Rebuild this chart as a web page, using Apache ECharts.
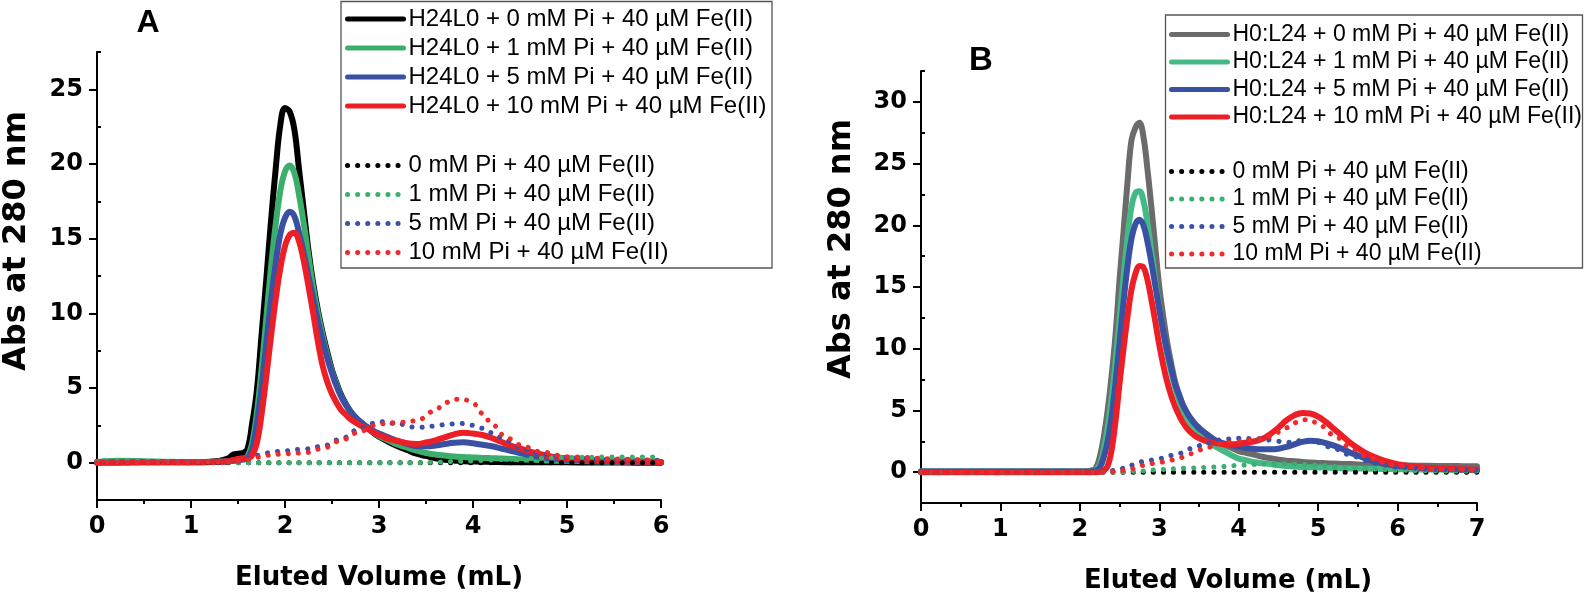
<!DOCTYPE html>
<html><head><meta charset="utf-8">
<script src="https://cdn.jsdelivr.net/npm/echarts@6/dist/echarts.min.js"></script>
<style>html,body{margin:0;padding:0;background:#fff}#c{width:1585px;height:596px}</style>
</head><body><div id="c"></div>
<script>
// ---------- Panel A data ----------
const yTicksA = [0, 5, 10, 15, 20, 25];
const yMinorA = [2.5, 7.5, 12.5, 17.5, 22.5, 27.5];
const xA = [0, 0.25, 0.5, 0.75, 1.0, 1.1, 1.2, 1.3,
  1.4, 1.45, 1.5, 1.55, 1.6, 1.65, 1.7, 1.75, 1.8, 1.85, 1.9, 1.95, 2.0, 2.05, 2.1, 2.15, 2.2, 2.25, 2.3, 2.35, 2.4, 2.45, 2.5, 2.55, 2.6, 2.65, 2.7, 2.75, 2.8, 2.85, 2.9, 2.95, 3.0,
  3.1, 3.2, 3.3, 3.4, 3.5, 3.6, 3.7, 3.8, 3.9, 4.0, 4.1, 4.2, 4.3, 4.4, 4.5, 4.6, 4.7, 4.8, 4.9, 5.0,
  5.25, 5.5, 5.75, 6.0];
const a0 = [0.05, 0.05, 0.05, 0.05, 0.05, 0.05, 0.07, 0.12,
  0.3, 0.55, 0.6, 0.65, 0.9, 2.6, 4.8, 8.5, 12.2, 16.1, 19.6, 22.6, 23.75, 23.5, 22.3, 19.6, 16.9, 14.2, 12.0, 10.2, 8.7, 7.4, 6.2, 5.3, 4.5, 3.9, 3.4, 3.0, 2.7, 2.45, 2.2, 1.95, 1.75,
  1.4, 1.1, 0.85, 0.6, 0.45, 0.3, 0.2, 0.15, 0.1, 0.08, 0.06, 0.05, 0.04, 0.03, 0.03, 0.02, 0.02, 0.02, 0.02, 0.02,
  0.01, 0.01, 0.0, 0.0];
const a1 = [0.05, 0.12, 0.1, 0.06, 0.05, 0.05, 0.05, 0.07,
  0.1, 0.15, 0.2, 0.25, 0.4, 1.3, 3.3, 6.2, 9.6, 13.0, 15.9, 18.2, 19.5, 19.9, 19.4, 17.9, 16.0, 13.8, 11.7, 10.0, 8.5, 7.2, 6.1, 5.2, 4.4, 3.85, 3.4, 3.0, 2.7, 2.45, 2.2, 2.0, 1.8,
  1.5, 1.2, 1.0, 0.8, 0.65, 0.55, 0.48, 0.42, 0.38, 0.35, 0.32, 0.3, 0.28, 0.25, 0.22, 0.2, 0.18, 0.15, 0.13, 0.12,
  0.09, 0.06, 0.04, 0.03];
const a5 = [0.0, 0.02, 0.02, 0.02, 0.02, 0.03, 0.04, 0.06,
  0.1, 0.12, 0.15, 0.2, 0.3, 0.9, 2.6, 5.0, 7.9, 10.8, 13.3, 15.3, 16.4, 16.8, 16.5, 15.4, 14.0, 12.5, 11.0, 9.5, 8.2, 7.0, 6.0, 5.1, 4.4, 3.85, 3.4, 3.05, 2.75, 2.5, 2.3, 2.1, 1.95,
  1.7, 1.45, 1.25, 1.1, 1.1, 1.15, 1.25, 1.33, 1.36, 1.3, 1.2, 1.1, 0.95, 0.8, 0.65, 0.5, 0.4, 0.3, 0.25, 0.2,
  0.13, 0.08, 0.05, 0.04];
const a10 = [0.0, 0.0, 0.02, 0.02, 0.02, 0.03, 0.04, 0.06,
  0.1, 0.18, 0.25, 0.3, 0.3, 0.5, 1.3, 3.2, 5.7, 8.4, 10.9, 13.0, 14.5, 15.25, 15.4, 14.8, 13.5, 11.8, 10.0, 8.1, 6.5, 5.4, 4.6, 4.0, 3.5, 3.2, 2.9, 2.7, 2.5, 2.35, 2.2, 2.0, 1.85,
  1.6, 1.45, 1.3, 1.25, 1.35, 1.5, 1.7, 1.9, 2.0, 1.95, 1.85, 1.65, 1.4, 1.15, 0.95, 0.75, 0.6, 0.45, 0.35, 0.28,
  0.18, 0.1, 0.07, 0.05];
const xAd = [0, 0.5, 1.0, 1.4, 1.5, 1.6, 1.7, 1.8, 1.9, 2.0, 2.2, 2.4, 2.6, 2.8, 3.0, 3.2, 3.4, 3.6, 3.7, 3.8, 3.9, 4.0, 4.1, 4.2, 4.35, 4.5, 4.7, 5.0, 5.5, 6.0];
const d0A = [0, 0, 0, 0, 0, 0, 0, 0, 0, 0, 0, 0, 0, 0, 0, 0, 0, 0, 0, 0, 0, 0, 0, 0, 0, 0, 0, 0, 0, 0];
const d1A = [0.05, 0.1, 0.05, 0.03, 0.0, 0.0, 0.0, 0.0, 0.0, 0.0, 0.0, 0.0, 0.0, 0.0, 0.0, 0.0, 0.0, 0.02, 0.05, 0.08, 0.1, 0.12, 0.15, 0.18, 0.22, 0.26, 0.3, 0.35, 0.38, 0.38];
const d5A = [0.0, 0.02, 0.02, 0.05, 0.1, 0.3, 0.5, 0.65, 0.75, 0.8, 0.9, 1.1, 1.6, 2.3, 2.75, 2.6, 2.35, 2.45, 2.55, 2.6, 2.62, 2.5, 2.3, 2.0, 1.5, 1.0, 0.6, 0.35, 0.2, 0.15];
const d10A = [0.0, 0.0, 0.0, 0.05, 0.12, 0.2, 0.35, 0.5, 0.55, 0.6, 0.65, 0.95, 1.5, 2.1, 2.6, 2.68, 2.8, 3.5, 4.0, 4.25, 4.25, 4.0, 3.3, 2.6, 1.7, 1.2, 0.75, 0.4, 0.25, 0.1];

// ---------- Panel B data ----------
const yTicksB = [0, 5, 10, 15, 20, 25, 30];
const yMinorB = [2.5, 7.5, 12.5, 17.5, 22.5, 27.5, 32.5];
const xB = [0, 0.5, 1.0, 1.5, 1.8, 2.0, 2.1, 2.15,
  2.2, 2.25, 2.3, 2.35, 2.4, 2.45, 2.5, 2.55, 2.6, 2.65, 2.7, 2.75, 2.8, 2.85, 2.9, 2.95, 3.0, 3.05, 3.1, 3.15, 3.2, 3.25, 3.3, 3.35, 3.4, 3.45, 3.5, 3.55, 3.6,
  3.7, 3.8, 3.9, 4.0, 4.1, 4.2, 4.3, 4.4, 4.5, 4.6, 4.7, 4.8, 4.9, 5.0, 5.1, 5.2, 5.3, 5.4, 5.5, 5.6, 5.7, 5.8, 5.9, 6.0,
  6.25, 6.5, 6.75, 7.0];
const b0 = [0.05, 0.05, 0.05, 0.05, 0.05, 0.05, 0.08, 0.15,
  0.3, 1.2, 2.8, 5.0, 7.8, 11.2, 15.6, 19.5, 23.5, 26.9, 27.9, 28.3, 27.2, 24.6, 21.5, 18.2, 15.0, 12.6, 10.5, 8.8, 7.3, 6.3, 5.4, 4.8, 4.3, 3.9, 3.6, 3.3, 3.05,
  2.6, 2.25, 2.0, 1.7, 1.55, 1.4, 1.25, 1.12, 1.0, 0.93, 0.88, 0.83, 0.78, 0.75, 0.72, 0.7, 0.67, 0.65, 0.62, 0.6, 0.59, 0.58, 0.56, 0.55,
  0.52, 0.5, 0.49, 0.48];
const b1 = [0.05, 0.05, 0.05, 0.05, 0.05, 0.05, 0.06, 0.08,
  0.15, 0.6, 1.8, 3.6, 6.0, 9.0, 12.4, 15.8, 19.0, 21.5, 22.6, 22.75, 22.0, 20.2, 17.9, 15.5, 13.3, 11.3, 9.5, 8.1, 6.8, 5.8, 5.0, 4.4, 3.9, 3.45, 3.1, 2.8, 2.5,
  2.1, 1.75, 1.4, 1.1, 0.95, 0.8, 0.72, 0.65, 0.55, 0.5, 0.46, 0.42, 0.4, 0.38, 0.36, 0.34, 0.32, 0.3, 0.29, 0.28, 0.27, 0.26, 0.25, 0.24,
  0.22, 0.21, 0.2, 0.2];
const b5 = [0.05, 0.05, 0.05, 0.05, 0.05, 0.05, 0.05, 0.07,
  0.1, 0.35, 1.2, 2.5, 4.5, 7.3, 10.5, 13.8, 16.7, 18.9, 20.1, 20.45, 20.0, 18.7, 17.0, 15.1, 13.2, 11.4, 9.8, 8.4, 7.1, 6.2, 5.4, 4.8, 4.3, 3.9, 3.55, 3.3, 3.05,
  2.6, 2.35, 2.2, 2.05, 1.95, 1.88, 1.85, 1.85, 1.9, 2.05, 2.25, 2.45, 2.55, 2.5, 2.35, 2.15, 1.9, 1.6, 1.35, 1.1, 0.9, 0.72, 0.6, 0.5,
  0.35, 0.27, 0.22, 0.2];
const b10 = [0, 0, 0, 0, 0, 0, 0, 0,
  0.0, 0.02, 0.1, 0.5, 1.8, 4.2, 7.2, 10.0, 12.6, 14.8, 16.1, 16.7, 16.6, 15.6, 14.0, 12.2, 10.3, 8.7, 7.3, 6.2, 5.3, 4.6, 4.0, 3.55, 3.2, 2.95, 2.75, 2.6, 2.5,
  2.35, 2.27, 2.25, 2.3, 2.4, 2.5, 2.7, 3.1, 3.6, 4.2, 4.6, 4.8, 4.75, 4.5, 4.05, 3.5, 2.95, 2.4, 1.95, 1.55, 1.25, 1.0, 0.8, 0.65,
  0.42, 0.3, 0.24, 0.2];
const xBd = [0, 0.5, 1.0, 1.5, 2.0, 2.3, 2.5, 2.6, 2.8, 3.0, 3.2, 3.4, 3.6, 3.8, 4.0, 4.2, 4.4, 4.6, 4.7, 4.8, 4.9, 5.0, 5.2, 5.4, 5.6, 5.8, 6.0, 6.5, 7.0];
const d0B = [0, 0, 0, 0, 0, 0, 0, 0, 0, 0, 0, 0, 0, 0, 0, 0, 0, 0, 0, 0, 0, 0, 0, 0, 0, 0, 0, 0, 0];
const d1B = [0, 0, 0, 0, 0, 0, 0.02, 0.05, 0.1, 0.2, 0.28, 0.33, 0.38, 0.45, 0.55, 0.62, 0.68, 0.68, 0.66, 0.62, 0.6, 0.55, 0.45, 0.38, 0.3, 0.22, 0.15, 0.1, 0.1];
const d5B = [0.02, 0.02, 0.02, 0.02, 0.02, 0.02, 0.2, 0.5, 0.85, 1.1, 1.4, 1.9, 2.35, 2.65, 2.75, 2.72, 2.6, 2.4, 2.45, 2.6, 2.55, 2.4, 1.9, 1.4, 0.95, 0.6, 0.4, 0.2, 0.15];
const d10B = [0, 0, 0, 0, 0, 0, 0.1, 0.2, 0.55, 0.8, 1.0, 1.5, 2.0, 2.35, 2.5, 2.6, 2.9, 3.6, 4.0, 4.25, 4.25, 3.9, 3.0, 2.0, 1.3, 0.8, 0.5, 0.25, 0.2];

const namesA = ['H24L0 + 0 mM Pi + 40 µM Fe(II)', 'H24L0 + 1 mM Pi + 40 µM Fe(II)', 'H24L0 + 5 mM Pi + 40 µM Fe(II)', 'H24L0 + 10 mM Pi + 40 µM Fe(II)'];
const namesB = ['H0:L24 + 0 mM Pi + 40 µM Fe(II)', 'H0:L24 + 1 mM Pi + 40 µM Fe(II)', 'H0:L24 + 5 mM Pi + 40 µM Fe(II)', 'H0:L24 + 10 mM Pi + 40 µM Fe(II)'];
const namesD = ['0 mM Pi + 40 µM Fe(II)', '1 mM Pi + 40 µM Fe(II)', '5 mM Pi + 40 µM Fe(II)', '10 mM Pi + 40 µM Fe(II)'];

const colA = ['#000000', '#3bae6c', '#3a51a3', '#ec1f26'];
const colB = ['#6b6b6b', '#45b985', '#3a51a3', '#ec1f26'];
const colD = ['#000000', '#3bb06e', '#3a51a8', '#ee2a2c'];

const LW = 6;      // plotted solid lines
const LWL = 5;     // legend sample lines
const DW = 5;      // dot size
const DOTS = [0.1, 10];

function pairs(xs, ys) { return xs.map((x, i) => [x, ys[i]]); }
function solid(name, xs, ys, color, xi, yi) {
  return { type: 'line', name, xAxisIndex: xi, yAxisIndex: yi, data: pairs(xs, ys), symbol: 'none', showSymbol: false, smooth: 0.4, z: 2,
    emphasis: { disabled: true },
    lineStyle: { color: color, width: LW, cap: 'round', join: 'round' }, itemStyle: { color: color } };
}
function dotted(name, xs, ys, color, xi, yi) {
  return { type: 'line', name, xAxisIndex: xi, yAxisIndex: yi, data: pairs(xs, ys), symbol: 'none', showSymbol: false, smooth: 0.35, smoothMonotone: 'x', z: 3,
    emphasis: { disabled: true },
    lineStyle: { color: color, width: DW, type: DOTS, cap: 'round', join: 'round' }, itemStyle: { color: color } };
}

const BOLD = '"DejaVu Sans", sans-serif';
const REG = '"Liberation Sans", Arial, sans-serif';
function xAxisDef(gi, max, padLeft) {
  return { type: 'value', gridIndex: gi, min: 0, max: max, interval: 1,
    axisLine: { show: true, onZero: false, lineStyle: { color: '#000', width: 2 } },
    axisTick: { show: true, length: 8, lineStyle: { color: '#000', width: 2 } },
    minorTick: { show: true, splitNumber: 2, length: 4, lineStyle: { color: '#000', width: 2 } },
    splitLine: { show: false },
    axisLabel: { fontFamily: BOLD, fontWeight: 'bold', fontSize: 24, color: '#000', margin: 15 },
    name: 'Eluted Volume (mL)', nameLocation: 'middle', nameGap: 65,
    nameTextStyle: { fontFamily: BOLD, fontWeight: 'bold', fontSize: 26, color: '#000', padding: [0, 0, 0, padLeft] } };
}
function yAxisDef(gi, max, ticks, padLeft, gap) {
  return { type: 'value', gridIndex: gi, min: -2.5, max: max,
    axisLine: { show: true, onZero: false, lineStyle: { color: '#000', width: 2 } },
    axisTick: { show: true, length: 8, customValues: ticks, lineStyle: { color: '#000', width: 2 } },
    splitLine: { show: false },
    axisLabel: { customValues: ticks, fontFamily: BOLD, fontWeight: 'bold', fontSize: 24, color: '#000', margin: 14 },
    name: 'Abs at 280 nm', nameLocation: 'middle', nameGap: gap,
    nameTextStyle: { fontFamily: BOLD, fontWeight: 'bold', fontSize: 32, color: '#000', padding: [0, 0, 0, padLeft] } };
}
function yMinorDef(gi, max, ticks) {
  return { type: 'value', gridIndex: gi, min: -2.5, max: max,
    axisLine: { show: false }, splitLine: { show: false },
    axisTick: { show: true, length: 4, customValues: ticks, lineStyle: { color: '#000', width: 2 } },
    axisLabel: { show: false } };
}
function legendDef(names, left, top, fontSize, lh, gap, isDotted) {
  const ls = { width: LWL, cap: 'round' };
  if (isDotted) ls.type = DOTS;
  return { orient: 'vertical', left, top, padding: 0, itemWidth: 56, itemHeight: 14, itemGap: gap, data: names, selectedMode: false,
    itemStyle: { opacity: 0 }, lineStyle: ls,
    textStyle: { fontFamily: REG, fontSize, color: '#000', lineHeight: lh } };
}

const series = [];
[a0, a1, a5, a10].forEach((ys, i) => series.push(solid(namesA[i], xA, ys, colA[i], 0, 0)));
[d0A, d1A, d5A, d10A].forEach((ys, i) => series.push(dotted(namesD[i], xAd, ys, colD[i], 0, 0)));
[b0, b1, b5, b10].forEach((ys, i) => series.push(solid(namesB[i], xB, ys, colB[i], 1, 2)));
[d0B, d1B, d5B, d10B].forEach((ys, i) => series.push(dotted(namesD[i], xBd, ys, colD[i], 1, 2)));

const chart = echarts.init(document.getElementById('c'), null, { renderer: 'canvas' });
chart.setOption({
  animation: false,
  backgroundColor: '#fff',
  grid: [
    { left: 97, top: 52, width: 564, height: 448, outerBoundsMode: 'none', containLabel: false },
    { left: 921, top: 71, width: 556, height: 432, outerBoundsMode: 'none', containLabel: false }
  ],
  xAxis: [xAxisDef(0, 6, 0), xAxisDef(1, 7, 58)],
  yAxis: [yAxisDef(0, 27.5, yTicksA, 70, 64), yMinorDef(0, 27.5, yMinorA), yAxisDef(1, 32.5, yTicksB, 76, 63), yMinorDef(1, 32.5, yMinorB)],
  legend: [
    legendDef(namesA, 345, 6, 24, 26, 3, false),
    legendDef(namesD, 345, 152.5, 24, 26, 3, true),
    legendDef(namesB, 1169, 22, 23, 25, 2.5, false),
    legendDef(namesD, 1169, 159, 23, 25, 2.5, true)
  ],
  graphic: [
    { type: 'rect', shape: { x: 341, y: 1.5, width: 431, height: 266.5 }, style: { fill: 'none', stroke: '#555', lineWidth: 1.3 }, z: 0 },
    { type: 'rect', shape: { x: 1165.5, y: 15, width: 417, height: 253 }, style: { fill: 'none', stroke: '#555', lineWidth: 1.3 }, z: 0 },
    { type: 'text', x: 148, y: 23, style: { text: 'A', fontFamily: REG, fontWeight: 'bold', fontSize: 32, fill: '#000', textAlign: 'center', textVerticalAlign: 'middle' } },
    { type: 'text', x: 981, y: 61, style: { text: 'B', fontFamily: REG, fontWeight: 'bold', fontSize: 33, fill: '#000', textAlign: 'center', textVerticalAlign: 'middle' } }
  ],
  series
});
</script></body></html>
